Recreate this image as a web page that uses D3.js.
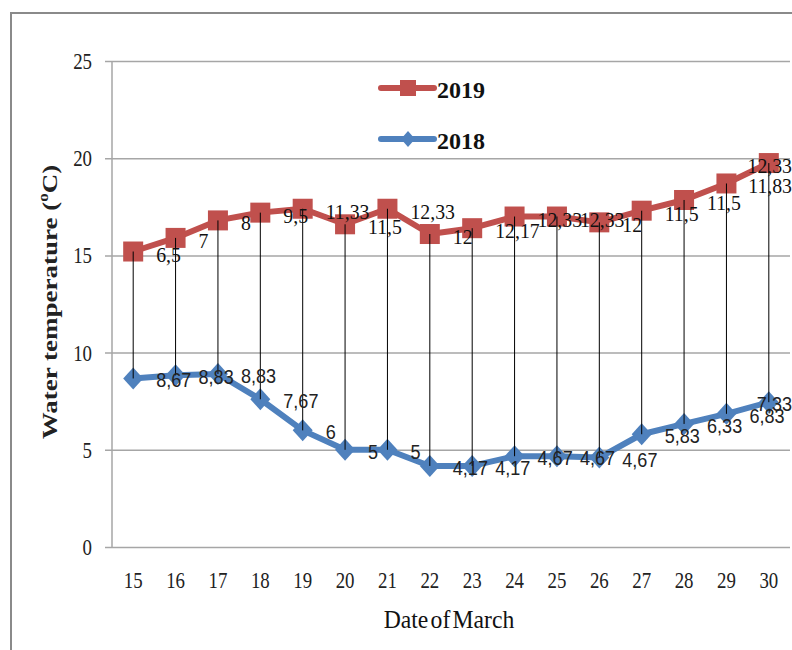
<!DOCTYPE html>
<html>
<head>
<meta charset="utf-8">
<script src="https://cdn.jsdelivr.net/npm/d3@7"></script>
<style>
  body { margin: 0; background: #fff; }
  svg { display: block; }
</style>
</head>
<body>
<svg id="chart"></svg>
<script>
var days = [15, 16, 17, 18, 19, 20, 21, 22, 23, 24, 25, 26, 27, 28, 29, 30];
var temp2019 = [15.2, 15.9, 16.8, 17.2, 17.4, 16.6, 17.4, 16.1, 16.4, 17.0, 17.0, 16.7, 17.3, 17.85, 18.7, 19.75];
var temp2018 = [8.67, 8.83, 8.9, 7.6, 6.0, 5.0, 5.0, 4.17, 4.17, 4.67, 4.67, 4.6, 5.8, 6.33, 6.85, 7.45];
var labels2019 = ['6,5', '7', '8', '9,5', '11,33', '11,5', '12,33', '12', '12,17', '12,33', '12,33', '12', '11,5', '11,5', '11,83', '12,33'];
var labels2018 = ['8,67', '8,83', '8,83', '7,67', '6', '5', '5', '4,17', '4,17', '4,67', '4,67', '4,67', '5,83', '6,33', '6,83', '7,33'];
var yTicks = [0, 5, 10, 15, 20, 25];

var width = 792;
var height = 650;

var svg = d3.select('#chart')
    .attr('width', width)
    .attr('height', height);

var x = d3.scalePoint()
    .domain(days)
    .range([112, 790])
    .padding(0.5);

var y = d3.scaleLinear()
    .domain([0, 25])
    .range([547, 61]);

// outer chart frame (only left and top are visible)
svg.append('path')
    .attr('d', 'M11,650V13H792')
    .attr('fill', 'none')
    .attr('stroke', '#8a8a8a')
    .attr('stroke-width', 2);

// gridlines + y axis
var yAxis = d3.axisLeft(y)
    .tickValues(yTicks)
    .tickSize(-(790 - 112))
    .tickFormat('');
var yG = svg.append('g')
    .attr('transform', 'translate(112,0)')
    .call(yAxis);
yG.select('.domain').remove();
yG.selectAll('.tick line')
    .attr('x1', -7)
    .attr('stroke', '#a6a6a6')
    .attr('stroke-width', 1.5);

svg.append('line')
    .attr('x1', 112).attr('x2', 112)
    .attr('y1', y(25)).attr('y2', y(0))
    .attr('stroke', '#a6a6a6')
    .attr('stroke-width', 1.5);

// squeezed text helper (the source image is narrowed horizontally)
function squeezed(g, tx, ty, sx, str, anchor) {
    return g.append('text')
        .attr('transform', 'translate(' + tx + ',' + ty + ') scale(' + sx + ',1)')
        .attr('text-anchor', anchor || 'start')
        .text(str);
}

var tickLabels = svg.append('g')
    .attr('font-family', '"Liberation Serif", "Times New Roman", serif')
    .attr('font-size', 23)
    .attr('fill', '#222');
yTicks.forEach(function(t) {
    squeezed(tickLabels, 92, y(t) + 8, 0.82, t, 'end');
});
days.forEach(function(d) {
    squeezed(tickLabels, x(d), 588, 0.82, d, 'middle');
});

// axis titles
// rotated, so the squeeze goes on the glyph height
svg.append('text')
    .attr('transform', 'translate(57,' + 302 + ') rotate(-90) scale(1,0.8)')
    .attr('text-anchor', 'middle')
    .attr('font-family', '"Liberation Serif", "Times New Roman", serif')
    .attr('font-weight', 'bold')
    .attr('font-size', 27)
    .attr('fill', '#222')
    .call(function(t) {
        t.append('tspan').text('Water temperature (');
        t.append('tspan').attr('font-size', 17).attr('dy', -11).text('o');
        t.append('tspan').attr('dy', 11).text('C)');
    });

squeezed(svg.append('g')
        .attr('font-family', '"Liberation Serif", "Times New Roman", serif')
        .attr('font-size', 26)
        .attr('fill', '#111')
        .attr('word-spacing', -4),
    449, 628, 0.91, 'Date of March', 'middle');

// series lines
var tempLine = d3.line()
    .x(function(d, i) { return x(days[i]); })
    .y(function(d) { return y(d); });

svg.append('path')
    .datum(temp2018)
    .attr('d', tempLine)
    .attr('fill', 'none')
    .attr('stroke', '#4f81bd')
    .attr('stroke-width', 6)
    .attr('stroke-linejoin', 'round');

svg.append('path')
    .datum(temp2019)
    .attr('d', tempLine)
    .attr('fill', 'none')
    .attr('stroke', '#c0504d')
    .attr('stroke-width', 6)
    .attr('stroke-linejoin', 'round');

// markers
svg.append('g').selectAll('path')
    .data(temp2018)
    .enter().append('path')
    .attr('d', 'M0,-11L10,0L0,11L-10,0Z')
    .attr('transform', function(d, i) { return 'translate(' + x(days[i]) + ',' + y(d) + ')'; })
    .attr('fill', '#4f81bd');

svg.append('g').selectAll('rect')
    .data(temp2019)
    .enter().append('rect')
    .attr('x', function(d, i) { return x(days[i]) - 10; })
    .attr('y', function(d) { return y(d) - 10; })
    .attr('width', 20)
    .attr('height', 20)
    .attr('fill', '#c0504d');

// high-low lines
svg.append('g').selectAll('line')
    .data(days)
    .enter().append('line')
    .attr('x1', function(d) { return x(d); })
    .attr('x2', function(d) { return x(d); })
    .attr('y1', function(d, i) { return y(temp2019[i]); })
    .attr('y2', function(d, i) { return y(temp2018[i]); })
    .attr('stroke', '#000')
    .attr('stroke-width', 1);

// data labels, right of each point, pushed inside at the right edge
function addLabels(g, vals, texts, sx, dy) {
    vals.forEach(function(v, i) {
        var t = squeezed(g, 0, 0, sx, texts[i]);
        var w = t.node().getComputedTextLength() * sx;
        var lx = Math.min(x(days[i]) + 23, 792 - w);
        t.attr('transform', 'translate(' + lx + ',' + (y(v) + dy) + ') scale(' + sx + ',1)');
    });
}

addLabels(svg.append('g')
        .attr('font-family', '"Liberation Serif", "Times New Roman", serif')
        .attr('font-size', 22)
        .attr('fill', '#111'),
    temp2019, labels2019, 0.9, 10);

addLabels(svg.append('g')
        .attr('font-family', '"Liberation Sans", Arial, sans-serif')
        .attr('font-size', 21)
        .attr('fill', '#222'),
    temp2018, labels2018, 0.86, 9);

// legend
var legend = svg.append('g');
legend.append('line')
    .attr('x1', 381).attr('x2', 434)
    .attr('y1', 88).attr('y2', 88)
    .attr('stroke', '#c0504d').attr('stroke-width', 6).attr('stroke-linecap', 'round');
legend.append('rect')
    .attr('x', 400).attr('y', 80).attr('width', 16).attr('height', 16)
    .attr('fill', '#c0504d');
legend.append('line')
    .attr('x1', 381).attr('x2', 434)
    .attr('y1', 139).attr('y2', 139)
    .attr('stroke', '#4f81bd').attr('stroke-width', 6).attr('stroke-linecap', 'round');
legend.append('path')
    .attr('d', 'M408,131L415,139L408,147L401,139Z')
    .attr('fill', '#4f81bd');
legend.selectAll('text')
    .data(['2019', '2018'])
    .enter().append('text')
    .attr('x', 437)
    .attr('y', function(d, i) { return i === 0 ? 98 : 149; })
    .attr('font-family', '"Liberation Serif", "Times New Roman", serif')
    .attr('font-weight', 'bold')
    .attr('font-size', 24)
    .attr('fill', '#111')
    .text(function(d) { return d; });
</script>
</body>
</html>
